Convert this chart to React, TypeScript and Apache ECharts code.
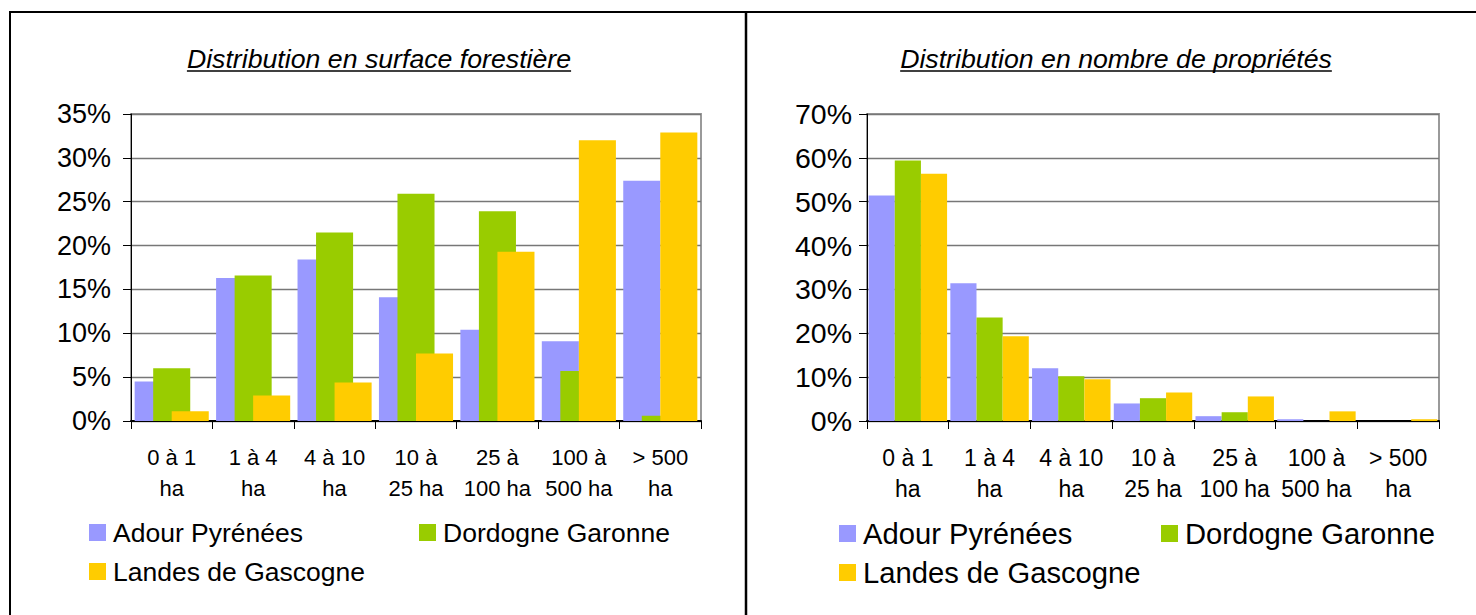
import React, { useEffect, useRef } from "react";
import * as echarts from "echarts";

const categories = [
  "0 à 1\nha",
  "1 à 4\nha",
  "4 à 10\nha",
  "10 à\n25 ha",
  "25 à\n100 ha",
  "100 à\n500 ha",
  "> 500\nha",
];
const seriesNames = ["Adour Pyrénées", "Dordogne Garonne", "Landes de Gascogne"];
const seriesColors = ["#9999FF", "#99CC00", "#FFCC00"];

const titleSurface = "Distribution en surface forestière";
const titleNombre = "Distribution en nombre de propriétés";

// Distribution en surface forestière (%)
const surfaceAdour = [4.5, 16.3, 18.4, 14.1, 10.4, 9.1, 27.4];
const surfaceDordogne = [6.0, 16.6, 21.5, 25.9, 23.9, 5.7, 0.6];
const surfaceLandes = [1.1, 2.9, 4.4, 7.7, 19.3, 32.0, 32.9];

// Distribution en nombre de propriétés (%)
const nombreAdour = [51.4, 31.4, 12.0, 4.0, 1.1, 0.4, 0.0];
const nombreDordogne = [59.4, 23.6, 10.2, 5.2, 2.0, 0.0, 0.0];
const nombreLandes = [56.4, 19.3, 9.5, 6.5, 5.6, 2.2, 0.4];

const surfaceAxis = { min: 0, max: 35, interval: 5 };
const nombreAxis = { min: 0, max: 70, interval: 10 };

const FONT = '"Liberation Sans", Arial, Helvetica, sans-serif';

function measure(text: string, font: string): number {
  const c = document.createElement("canvas");
  const ctx = c.getContext("2d");
  if (!ctx) return text.length * 12;
  ctx.font = font;
  return ctx.measureText(text).width;
}

export default function App() {
  const ref = useRef<HTMLDivElement>(null);

  useEffect(() => {
    if (!ref.current) return;
    const chart = echarts.init(ref.current, null, { renderer: "svg" });

    const titleFont = `italic 26.7px ${FONT}`;
    const t1w = measure(titleSurface, titleFont);
    const t2w = measure(titleNombre, titleFont);
    const t1x = 379;
    const t2x = 1116;
    const titleY = 59;
    const underlineY = 71;

    const yAxisCommon = (cfg: any, margin: number, fontSize: number) => ({
      type: "value",
      min: cfg.min,
      max: cfg.max,
      interval: cfg.interval,
      axisLine: { show: true, lineStyle: { color: "#000", width: 1 } },
      axisTick: { show: true, length: 8, inside: false, lineStyle: { color: "#000" } },
      axisLabel: {
        formatter: "{value}%",
        color: "#000",
        fontFamily: FONT,
        fontSize,
        margin,
      },
      splitLine: { show: true, lineStyle: { color: "#777", width: 1.3 } },
    });

    const xAxisCommon = (gridIndex: number, fontSize: number) => ({
      type: "category",
      gridIndex,
      data: categories,
      axisLine: { show: true, lineStyle: { color: "#000", width: 2 } },
      axisTick: { show: true, length: 8, alignWithLabel: false, lineStyle: { color: "#000" } },
      axisLabel: {
        color: "#000",
        fontFamily: FONT,
        fontSize,
        lineHeight: 31,
        margin: 21,
        interval: 0,
      },
    });

    const legendItem = (name: string, left: number, top: number, fontSize: number) => ({
      show: true,
      data: [name],
      left,
      top,
      padding: 0,
      icon: "rect",
      itemWidth: 17,
      itemHeight: 17,
      selectedMode: false,
      textStyle: {
        color: "#000",
        fontFamily: FONT,
        fontSize,
        lineHeight: 26,
        padding: [0, 0, 0, 2],
      },
    });

    const surfaceData = [surfaceAdour, surfaceDordogne, surfaceLandes];
    const nombreData = [nombreAdour, nombreDordogne, nombreLandes];

    const series: any[] = [];
    surfaceData.forEach((d, i) => {
      series.push({
        type: "bar",
        name: seriesNames[i],
        xAxisIndex: 0,
        yAxisIndex: 0,
        data: d,
        barWidth: "45.5%",
        barGap: "-50%",
        itemStyle: { color: seriesColors[i] },
      });
    });
    nombreData.forEach((d, i) => {
      series.push({
        type: "bar",
        name: seriesNames[i],
        xAxisIndex: 1,
        yAxisIndex: 1,
        data: d,
        barWidth: "32%",
        barGap: "0%",
        itemStyle: { color: seriesColors[i] },
      });
    });

    const option: any = {
      animation: false,
      backgroundColor: "#fff",
      color: seriesColors,
      grid: [
        {
          left: 131,
          top: 114,
          width: 570,
          height: 307,
          show: true,
          borderColor: "#9a9a9a",
          borderWidth: 2,
          backgroundColor: "transparent",
        },
        {
          left: 867,
          top: 114,
          width: 572,
          height: 307,
          show: true,
          borderColor: "#9a9a9a",
          borderWidth: 2,
          backgroundColor: "transparent",
        },
      ],
      xAxis: [xAxisCommon(0, 22), xAxisCommon(1, 23)],
      yAxis: [
        { ...yAxisCommon(surfaceAxis, 20, 27), gridIndex: 0 },
        { ...yAxisCommon(nombreAxis, 15, 28.5), gridIndex: 1 },
      ],
      legend: [
        legendItem(seriesNames[0], 89, 519, 26.5),
        legendItem(seriesNames[1], 419, 519, 26.5),
        legendItem(seriesNames[2], 89, 558, 26.5),
        legendItem(seriesNames[0], 839, 519, 29.2),
        legendItem(seriesNames[1], 1161, 519, 29.2),
        legendItem(seriesNames[2], 839, 558, 29.2),
      ],
      series,
      graphic: [
        // frame
        { type: "line", shape: { x1: 9, y1: 12, x2: 1476, y2: 12 }, style: { stroke: "#000", lineWidth: 2 } },
        { type: "line", shape: { x1: 10, y1: 11, x2: 10, y2: 615 }, style: { stroke: "#000", lineWidth: 2 } },
        { type: "line", shape: { x1: 746, y1: 11, x2: 746, y2: 615 }, style: { stroke: "#000", lineWidth: 2.5 } },
        // titles
        {
          type: "text",
          x: t1x,
          y: titleY,
          style: { text: titleSurface, font: titleFont, fill: "#000", textAlign: "center", textVerticalAlign: "middle" },
        },
        {
          type: "line",
          shape: { x1: t1x - t1w / 2, y1: underlineY, x2: t1x + t1w / 2, y2: underlineY },
          style: { stroke: "#000", lineWidth: 1.5 },
        },
        {
          type: "text",
          x: t2x,
          y: titleY,
          style: { text: titleNombre, font: titleFont, fill: "#000", textAlign: "center", textVerticalAlign: "middle" },
        },
        {
          type: "line",
          shape: { x1: t2x - t2w / 2, y1: underlineY, x2: t2x + t2w / 2, y2: underlineY },
          style: { stroke: "#000", lineWidth: 1.5 },
        },
      ],
    };

    chart.setOption(option);
    return () => chart.dispose();
  }, []);

  return (
    <div
      ref={ref}
      style={{ position: "fixed", left: 0, top: 0, width: 1476, height: 615, background: "#fff" }}
    />
  );
}
